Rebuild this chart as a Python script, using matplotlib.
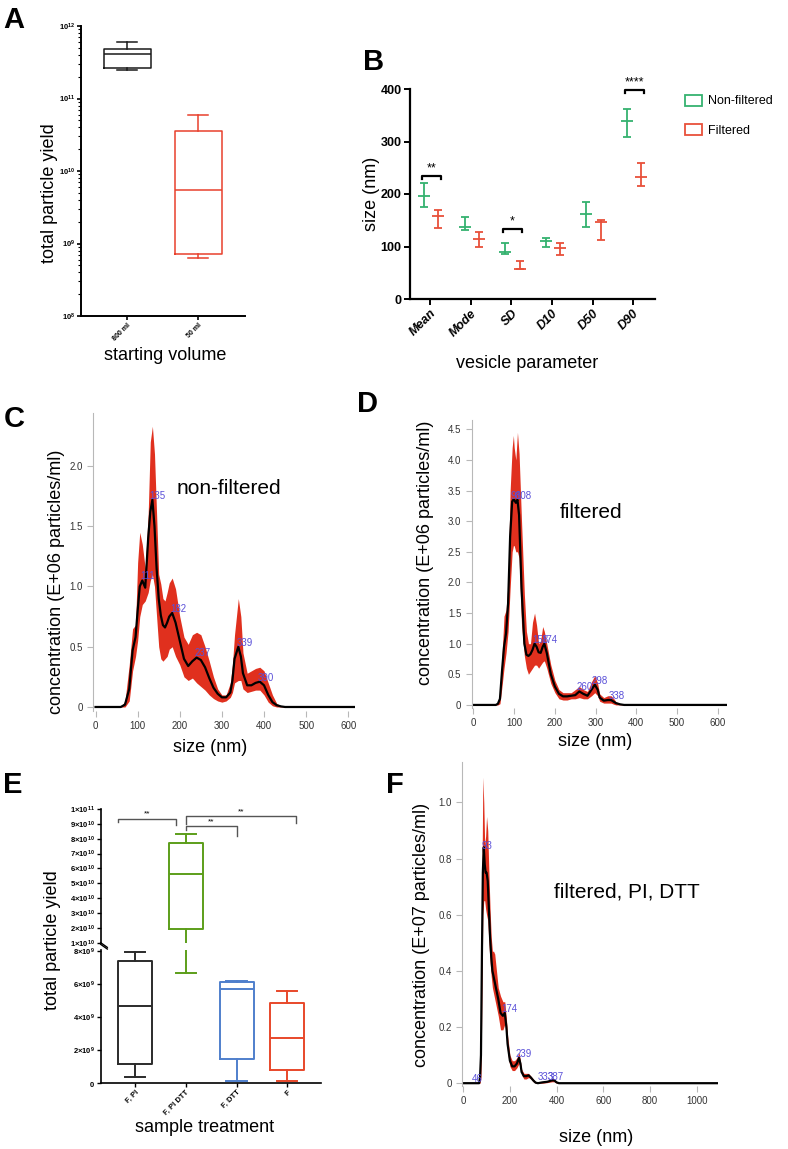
import numpy as np
import matplotlib
matplotlib.use('Agg')
import matplotlib.pyplot as plt
from matplotlib.patches import Patch

plt.rcParams['font.family'] = ['Liberation Sans', 'DejaVu Sans']
plt.rcParams['mathtext.fontset'] = 'custom'
plt.rcParams['mathtext.rm'] = 'Liberation Sans'
plt.rcParams['mathtext.bf'] = 'Liberation Sans:bold'
plt.rcParams['mathtext.it'] = 'Liberation Sans:italic'

# ---------------- data ----------------
# A: total yield by starting volume (box stats)
a_groups = ['800 ml', '50 ml']
a_whislo = [2.5e11, 6.3e8]
a_q1 = [2.6e11, 7.1e8]
a_med = [4.1e11, 5.4e9]
a_q3 = [4.8e11, 3.6e10]
a_whishi = [6.0e11, 5.9e10]

# B: vesicle size parameters (mean and error range)
b_params = ['Mean', 'Mode', 'SD', 'D10', 'D50', 'D90']
nf_mid = [197, 137, 89, 110, 162, 339]
nf_lo = [176, 131, 86, 100, 138, 309]
nf_hi = [221, 157, 107, 116, 184, 361]
fi_mid = [159, 115, 57, 98, 146, 233]
fi_lo = [135, 99, 57, 84, 113, 215]
fi_hi = [170, 127, 72, 106, 150, 259]
b_sig_idx = [0, 2, 5]
b_sig_y = [234, 133, 398]
b_sig_txt = ['**', '*', '****']

# C: non-filtered size distribution
c_size = [0, 60, 70, 80, 88, 95, 100, 105, 111, 118, 125, 130, 135, 140, 145, 150, 155, 160,
          165, 170, 175, 182, 190, 200, 210, 220, 230, 240, 250, 260, 270, 280, 290, 300,
          310, 320, 325, 330, 339, 345, 350, 360, 370, 380, 390, 400, 410, 420, 430, 440, 450, 620]
c_mean = [0, 0, 0.02, 0.15, 0.47, 0.58, 0.8, 1.0, 1.05, 0.99, 1.4, 1.62, 1.72, 1.5, 1.15, 0.9,
          0.76, 0.68, 0.66, 0.7, 0.75, 0.78, 0.7, 0.55, 0.4, 0.34, 0.38, 0.41, 0.39, 0.33, 0.24,
          0.16, 0.11, 0.08, 0.08, 0.12, 0.22, 0.4, 0.5, 0.42, 0.28, 0.18, 0.18, 0.2, 0.21, 0.18,
          0.1, 0.04, 0.015, 0.005, 0, 0]
c_upper = [0, 0, 0.05, 0.35, 0.65, 0.68, 1.2, 1.45, 1.35, 1.15, 1.6, 2.2, 2.33, 2.1, 1.6, 1.1,
           1.02, 0.9, 0.88, 0.95, 1.03, 1.07, 0.98, 0.75, 0.58, 0.52, 0.6, 0.62, 0.6, 0.5, 0.38,
           0.25, 0.15, 0.1, 0.1, 0.2, 0.35, 0.6, 0.9, 0.75, 0.45, 0.28, 0.3, 0.32, 0.33, 0.3,
           0.2, 0.1, 0.03, 0.01, 0, 0]
c_lower = [0, 0, 0, 0.05, 0.3, 0.42, 0.55, 0.75, 0.85, 0.88, 0.95, 1.05, 1.1, 1.0, 0.75, 0.5,
           0.4, 0.38, 0.4, 0.42, 0.48, 0.5, 0.42, 0.35, 0.25, 0.22, 0.24, 0.2, 0.17, 0.14, 0.1,
           0.07, 0.05, 0.04, 0.05, 0.08, 0.12, 0.2, 0.22, 0.22, 0.15, 0.12, 0.13, 0.14, 0.14,
           0.1, 0.04, 0.01, 0, 0, 0, 0]
c_peaks = [111, 135, 182, 237, 339, 390]
c_peak_pos = [111, 133, 182, 240, 339, 390]
c_peak_val = [1.05, 1.72, 0.78, 0.41, 0.5, 0.21]

# D: filtered size distribution
d_size = [0, 55, 60, 65, 70, 75, 80, 85, 90, 95, 98, 100, 104, 108, 112, 118, 125, 130, 135,
          140, 145, 150, 155, 160, 165, 170, 174, 180, 190, 200, 210, 220, 230, 240, 250, 260,
          270, 280, 290, 298, 305, 310, 320, 330, 338, 345, 350, 360, 370, 622]
d_mean = [0, 0, 0.02, 0.1, 0.55, 0.95, 1.17, 1.66, 2.75, 3.32, 3.35, 3.35, 3.3, 3.35, 3.1, 1.9,
          1.0, 0.82, 0.8, 0.83, 0.9, 1.0, 0.95, 0.86, 0.85, 0.95, 1.0, 0.85, 0.5, 0.3, 0.18,
          0.14, 0.14, 0.15, 0.16, 0.22, 0.18, 0.15, 0.25, 0.33, 0.25, 0.12, 0.07, 0.08, 0.08,
          0.05, 0.03, 0.01, 0, 0]
d_upper = [0, 0, 0.05, 0.2, 0.8, 1.45, 1.55, 2.0, 3.5, 4.2, 4.4, 4.2, 4.0, 4.45, 4.1, 3.0, 1.8,
           1.2, 1.0, 1.0, 1.35, 1.5, 1.3, 1.0, 1.05, 1.28, 1.2, 1.0, 0.65, 0.4, 0.25, 0.2, 0.2,
           0.2, 0.25, 0.3, 0.25, 0.22, 0.38, 0.48, 0.35, 0.18, 0.12, 0.15, 0.15, 0.1, 0.05,
           0.02, 0, 0]
d_lower = [0, 0, 0, 0.02, 0.3, 0.6, 0.85, 1.2, 1.9, 2.5, 2.6, 2.6, 2.5, 2.5, 2.4, 1.3, 0.8, 0.6,
           0.5, 0.55, 0.6, 0.65, 0.65, 0.6, 0.65, 0.7, 0.72, 0.6, 0.35, 0.2, 0.1, 0.08, 0.08,
           0.1, 0.1, 0.12, 0.1, 0.1, 0.15, 0.2, 0.15, 0.06, 0.03, 0.03, 0.03, 0.01, 0, 0, 0, 0]
d_peaks = [98, 108, 158, 174, 260, 298, 338]
d_peak_pos = [97, 108, 150, 172, 258, 296, 336]
d_peak_val = [3.35, 3.35, 1.0, 1.0, 0.22, 0.33, 0.08]

# F: filtered + PI + DTT size distribution
f_size = [0, 68, 72, 76, 80, 84, 88, 92, 96, 100, 105, 110, 115, 120, 125, 130, 135, 140, 150,
          160, 170, 178, 185, 190, 200, 210, 220, 230, 239, 245, 250, 260, 270, 280, 290, 300,
          310, 320, 340, 360, 380, 390, 400, 410, 1100]
f_mean = [0, 0, 0.02, 0.1, 0.45, 0.75, 0.84, 0.78, 0.75, 0.75, 0.72, 0.62, 0.52, 0.45, 0.4,
          0.38, 0.36, 0.34, 0.3, 0.25, 0.24, 0.25, 0.2, 0.14, 0.08, 0.06, 0.06, 0.07, 0.09,
          0.07, 0.04, 0.025, 0.025, 0.028, 0.02, 0.01, 0.002, 0, 0.003, 0.005, 0.01, 0.01,
          0.003, 0, 0]
f_upper = [0, 0, 0.05, 0.25, 0.7, 1.09, 1.0, 0.85, 0.88, 0.95, 0.9, 0.75, 0.62, 0.52, 0.47,
           0.47, 0.46, 0.42, 0.34, 0.31, 0.29, 0.29, 0.23, 0.17, 0.1, 0.08, 0.08, 0.09, 0.11,
           0.08, 0.05, 0.035, 0.035, 0.035, 0.025, 0.015, 0.005, 0, 0.005, 0.008, 0.015, 0.015,
           0.005, 0, 0]
f_lower = [0, 0, 0, 0.02, 0.3, 0.6, 0.65, 0.65, 0.62, 0.6, 0.58, 0.5, 0.43, 0.38, 0.34, 0.32,
           0.3, 0.28, 0.24, 0.19, 0.19, 0.21, 0.17, 0.11, 0.06, 0.045, 0.045, 0.055, 0.07, 0.055,
           0.03, 0.015, 0.015, 0.02, 0.015, 0.005, 0, 0, 0, 0.002, 0.005, 0.005, 0, 0, 0]
f_peaks = [46, 93, 174, 239, 333, 387]
f_peak_pos = [44, 88, 170, 234, 328, 372]
f_peak_val = [0.0, 0.83, 0.25, 0.09, 0.006, 0.008]

# E: yield by sample treatment (box stats)
e_groups = ['F, PI', 'F, PI DTT', 'F, DTT', 'F']
e_whislo = [0.36e9, 6.7e9, 0.14e9, 0.14e9]
e_q1 = [1.17e9, 1.9e10, 1.45e9, 0.81e9]
e_med = [4.69e9, 5.62e10, 5.7e9, 2.77e9]
e_q3 = [7.41e9, 7.7e10, 6.12e9, 4.89e9]
e_whishi = [7.95e9, 8.33e10, 6.2e9, 5.58e9]
e_br_x1 = [-0.34, 1.0, 1.0]
e_br_x2 = [0.8, 3.17, 2.0]
e_br_y = [9.36e10, 9.52e10, 8.85e10]
e_br_y1 = [9.1e10, 9.0e10, 8.6e10]
e_br_y2 = [8.95e10, 9.03e10, 8.17e10]

# ---------------- figure ----------------
W, H = 788, 1149
fig = plt.figure(figsize=(W / 100, H / 100), dpi=100)

def box(l, t, r, b):
    return [l / W, 1 - b / H, (r - l) / W, (b - t) / H]

def ftext(x, y, s, **kw):
    fig.text(x / W, 1 - y / H, s, ha='center', va='center', **kw)

def letter(x, y, s):
    fig.text(x / W, 1 - y / H, s, ha='left', va='baseline', fontsize=21, fontweight='bold')

def boxes(ax, pos, lo, q1, med, q3, hi, colors, width, capw, lw):
    for i in range(len(pos)):
        st = [dict(whislo=lo[i], q1=q1[i], med=med[i], q3=q3[i], whishi=hi[i], fliers=[])]
        c = colors[i]
        ax.bxp(st, positions=[pos[i]], widths=width, capwidths=capw, showfliers=False,
               boxprops=dict(color=c, lw=lw), medianprops=dict(color=c, lw=lw),
               whiskerprops=dict(color=c, lw=lw), capprops=dict(color=c, lw=lw))

# ---- A ----
axA = fig.add_axes(box(81, 26, 245, 316))
boxes(axA, [1, 2], a_whislo, a_q1, a_med, a_q3, a_whishi, ['#1a1a1a', '#e8402c'], 0.66, 0.28, 1.1)
axA.set_yscale('log')
axA.set_ylim(1e8, 1e12)
axA.set_xlim(0.35, 2.66)
axA.set_yticks([1e8, 1e9, 1e10, 1e11, 1e12],
               [r'$\mathbf{10^{8}}$', r'$\mathbf{10^{9}}$', r'$\mathbf{10^{10}}$',
                r'$\mathbf{10^{11}}$', r'$\mathbf{10^{12}}$'], fontsize=5.5)
axA.set_xticks([1, 2], a_groups, fontsize=5, fontweight='bold', rotation=45, ha='right',
               rotation_mode='anchor')
for s in ['top', 'right']:
    axA.spines[s].set_visible(False)
for s in ['left', 'bottom']:
    axA.spines[s].set_linewidth(1.4)
axA.tick_params(axis='both', which='major', width=1.2, length=3, pad=1)
axA.tick_params(axis='y', which='minor', width=0.8, length=2)
ftext(50, 193, 'total particle yield', fontsize=13, rotation=90)
ftext(165, 355, 'starting volume', fontsize=13)
letter(3, 28, 'A')

# ---- B ----
green_b, red_b = '#35b26f', '#e8503a'
axB = fig.add_axes(box(410, 89, 655, 299))
xb = np.arange(len(b_params))
nf_mid_a, fi_mid_a = np.array(nf_mid), np.array(fi_mid)
axB.errorbar(xb - 0.15, nf_mid_a, yerr=[nf_mid_a - np.array(nf_lo), np.array(nf_hi) - nf_mid_a],
             fmt='_', ms=9, mew=1.3, elinewidth=1.3, capsize=3, capthick=1.3, color=green_b)
axB.errorbar(xb + 0.2, fi_mid_a, yerr=[fi_mid_a - np.array(fi_lo), np.array(fi_hi) - fi_mid_a],
             fmt='_', ms=9, mew=1.3, elinewidth=1.3, capsize=3, capthick=1.3, color=red_b)
for i, yv, t in zip(b_sig_idx, b_sig_y, b_sig_txt):
    axB.plot([i - 0.2, i - 0.2, i + 0.26, i + 0.26], [yv - 6, yv, yv, yv - 6], color='black',
             lw=1.6, clip_on=False)
    axB.text(i + 0.03, yv + 3, t, ha='center', va='bottom', fontsize=9, clip_on=False)
axB.set_ylim(0, 400)
axB.set_xlim(-0.5, 5.54)
axB.set_yticks([0, 100, 200, 300, 400], ['0', '100', '200', '300', '400'], fontsize=9,
               fontweight='bold')
axB.set_xticks(xb, b_params, fontsize=9, fontweight='bold', fontstyle='italic', rotation=45,
               ha='right', rotation_mode='anchor')
for s in ['top', 'right']:
    axB.spines[s].set_visible(False)
for s in ['left', 'bottom']:
    axB.spines[s].set_linewidth(1.6)
axB.tick_params(width=1.4, length=4, pad=2)
axB.legend(handles=[Patch(facecolor='none', edgecolor=green_b, lw=1.3, label='Non-filtered'),
                    Patch(facecolor='none', edgecolor=red_b, lw=1.3, label='Filtered')],
           loc='upper left', bbox_to_anchor=(682 / W, 1 - 92 / H), bbox_transform=fig.transFigure,
           frameon=False, fontsize=9, handlelength=1.4, handleheight=1.0, labelspacing=1.3,
           handletextpad=0.5, borderaxespad=0, borderpad=0.2)
ftext(371, 194, 'size (nm)', fontsize=13, rotation=90)
ftext(527, 363, 'vesicle parameter', fontsize=13)
letter(363, 70, 'B')

# ---- C, D, F ----
band_red = '#e0301e'
peak_col = '#5a50d8'

def nta(ax, sz, mean, up, lo, xlim, ylim, xt, yt, ylab):
    ax.fill_between(sz, lo, up, color=band_red, lw=0)
    ax.plot(sz, mean, color='black', lw=1.6)
    ax.set_xlim(*xlim)
    ax.set_ylim(*ylim)
    ax.set_xticks(xt, [str(v) for v in xt])
    ax.set_yticks(yt, ylab)
    for s in ['top', 'right', 'bottom']:
        ax.spines[s].set_visible(False)
    ax.spines['left'].set_color('#b8b8b8')
    ax.spines['left'].set_linewidth(0.8)
    ax.tick_params(color='#b8b8b8', labelcolor='#333333', labelsize=7, length=4, width=0.8)

def peaks(ax, pos, vals, labels):
    for p, v, t in zip(pos, vals, labels):
        ax.annotate(str(t), (p, v), xytext=(-1.5, 3), textcoords='offset points', ha='left',
                    va='center', fontsize=7, color=peak_col)

axC = fig.add_axes(box(93, 413, 355, 710.6))
nta(axC, c_size, c_mean, c_upper, c_lower, (-6, 616), (-0.03, 2.44), [0, 100, 200, 300, 400, 500, 600],
    [0, 0.5, 1.0, 1.5, 2.0], ['0', '0.5', '1.0', '1.5', '2.0'])
peaks(axC, c_peak_pos, c_peak_val, c_peaks)
ftext(57, 582, 'concentration (E+06 particles/ml)', fontsize=13, rotation=90)
ftext(210, 747, 'size (nm)', fontsize=13)
ftext(229, 488, 'non-filtered', fontsize=15)
letter(4, 427, 'C')

axD = fig.add_axes(box(471.7, 419.5, 726.7, 708))
nta(axD, d_size, d_mean, d_upper, d_lower, (-4.4, 622), (-0.05, 4.66), [0, 100, 200, 300, 400, 500, 600],
    [0, 0.5, 1.0, 1.5, 2.0, 2.5, 3.0, 3.5, 4.0, 4.5],
    ['0', '0.5', '1.0', '1.5', '2.0', '2.5', '3.0', '3.5', '4.0', '4.5'])
peaks(axD, d_peak_pos, d_peak_val, d_peaks)
ftext(426, 553, 'concentration (E+06 particles/ml)', fontsize=13, rotation=90)
ftext(595, 742, 'size (nm)', fontsize=13)
ftext(591, 513, 'filtered', fontsize=15)
letter(357, 412, 'D')

axF = fig.add_axes(box(462.3, 762, 718.3, 1086))
nta(axF, f_size, f_mean, f_upper, f_lower, (-4, 1093), (-0.01, 1.144), [0, 200, 400, 600, 800, 1000],
    [0, 0.2, 0.4, 0.6, 0.8, 1.0], ['0', '0.2', '0.4', '0.6', '0.8', '1.0'])
peaks(axF, f_peak_pos, f_peak_val, f_peaks)
ftext(422, 935, 'concentration (E+07 particles/ml)', fontsize=13, rotation=90)
ftext(596, 1138, 'size (nm)', fontsize=13)
ftext(627, 892, 'filtered, PI, DTT', fontsize=15)
letter(386, 793, 'F')

# ---- E (broken axis) ----
e_cols = ['#2b2b2b', '#5c9e1a', '#4f7fcc', '#e8482a']
axEu = fig.add_axes(box(100.7, 809, 320.7, 942.7))
axEl = fig.add_axes(box(100.7, 949.7, 320.7, 1083.3))
xe = np.arange(len(e_groups))
for ax in (axEu, axEl):
    boxes(ax, xe, e_whislo, e_q1, e_med, e_q3, e_whishi, e_cols, 0.67, 0.4, 1.4)
    ax.set_xlim(-0.68, 3.66)
    for s in ['top', 'right']:
        ax.spines[s].set_visible(False)
    ax.spines['left'].set_linewidth(1.2)
    ax.tick_params(width=1.0, length=3, pad=1)
axEu.set_ylim(1e10, 1e11)
axEl.set_ylim(0, 8.1e9)
axEu.spines['bottom'].set_visible(False)
axEu.set_xticks([])
axEl.spines['bottom'].set_linewidth(1.2)
up_ticks = np.arange(1, 11) * 1e10
axEu.set_yticks(up_ticks, [r'$\mathbf{%d×10^{10}}$' % k for k in range(1, 10)] +
                [r'$\mathbf{1×10^{11}}$'], fontsize=5.5)
axEl.set_yticks([0, 2e9, 4e9, 6e9, 8e9], [r'$\mathbf{0}$'] +
                [r'$\mathbf{%d×10^{9}}$' % k for k in (2, 4, 6, 8)], fontsize=5.5)
axEl.set_xticks(xe, e_groups, fontsize=5.5, fontweight='bold', rotation=45, ha='right',
                rotation_mode='anchor')
# break marks
axEu.plot([0, 0.03], [0.0, -0.035], transform=axEu.transAxes, color='black', lw=1.0, clip_on=False)
axEl.plot([0, 0.03], [1.04, 1.005], transform=axEl.transAxes, color='black', lw=1.0, clip_on=False)
for x1, x2, yv, y1, y2 in zip(e_br_x1, e_br_x2, e_br_y, e_br_y1, e_br_y2):
    axEu.plot([x1, x1, x2, x2], [y1, yv, yv, y2], color='#555555', lw=1.0, clip_on=False)
    axEu.text((x1 + x2) / 2, yv + 0.05e10, '**', ha='center', va='bottom', fontsize=6,
              clip_on=False)
ftext(53, 940, 'total particle yield', fontsize=13, rotation=90)
ftext(205, 1128, 'sample treatment', fontsize=13)
letter(3, 793, 'E')

fig.savefig('out.png', dpi=100)
